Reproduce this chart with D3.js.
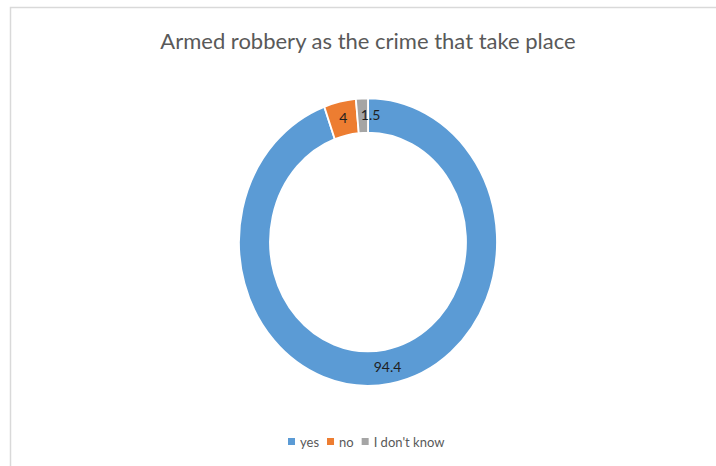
<!DOCTYPE html>
<html>
<head>
<meta charset="utf-8">
<script src="https://cdn.jsdelivr.net/npm/d3@7/dist/d3.min.js"></script>
<style>
  html, body { margin: 0; padding: 0; background: #fff; }
  svg { display: block; }
</style>
</head>
<body>
<svg id="chart" width="716" height="466"></svg>
<script>
// Survey answers
const categories = ["yes", "no", "I don't know"];
const values = [94.4, 4, 1.5];
const colors = ["#5B9BD5", "#ED7D31", "#A5A5A5"];
const title = "Armed robbery as the crime that take place";

const svg = d3.select("#chart");
const W = 716, H = 466;
const font = "Lato, 'Open Sans', sans-serif";

// chart area frame (left and top edges visible)
svg.append("path")
  .attr("d", `M10.5,${H} V7.5 H${W}`)
  .attr("fill", "none")
  .attr("stroke", "#d9d9d9")
  .attr("stroke-width", 1.5);

svg.append("text")
  .attr("x", 368).attr("y", 49)
  .attr("text-anchor", "middle")
  .attr("font-family", font)
  .attr("font-size", 22)
  .attr("fill", "#595959")
  .text(title);

const cx = 368, cy = 242, sy = 1.115;
const rOuter = 129, rInner = 98;

const pie = d3.pie().sort(null).value(d => d)(values);
const arc = d3.arc().innerRadius(rInner).outerRadius(rOuter);
const labelArc = d3.arc().innerRadius((rInner + rOuter) / 2).outerRadius((rInner + rOuter) / 2);

const ring = svg.append("g")
  .attr("transform", `translate(${cx},${cy}) scale(1,${sy})`);

ring.selectAll("path")
  .data(pie)
  .join("path")
  .attr("d", arc)
  .attr("fill", (d, i) => colors[i])
  .attr("stroke", "#fff")
  .attr("stroke-width", 1.8);

// value labels at slice centroids (ring is vertically stretched)
const labelNudge = [0, 0, 8];
svg.append("g")
  .selectAll("text")
  .data(pie)
  .join("text")
  .attr("x", (d, i) => cx + labelArc.centroid(d)[0] + labelNudge[i])
  .attr("y", d => cy + labelArc.centroid(d)[1] * sy)
  .attr("dy", "0.35em")
  .attr("text-anchor", "middle")
  .attr("font-family", font)
  .attr("font-size", 14)
  .attr("fill", "#1f1f1f")
  .text(d => d.data);

// legend
const legend = svg.append("g").attr("font-family", font).attr("font-size", 13).attr("fill", "#595959");
let lx = 288;
const ly = 442;
categories.forEach((c, i) => {
  legend.append("rect")
    .attr("x", lx).attr("y", ly - 4).attr("width", 7).attr("height", 7)
    .attr("fill", colors[i]);
  const t = legend.append("text")
    .attr("x", lx + 12).attr("y", ly).attr("dy", "0.35em")
    .text(c);
  lx += 12 + t.node().getComputedTextLength() + 8;
});
</script>
</body>
</html>
